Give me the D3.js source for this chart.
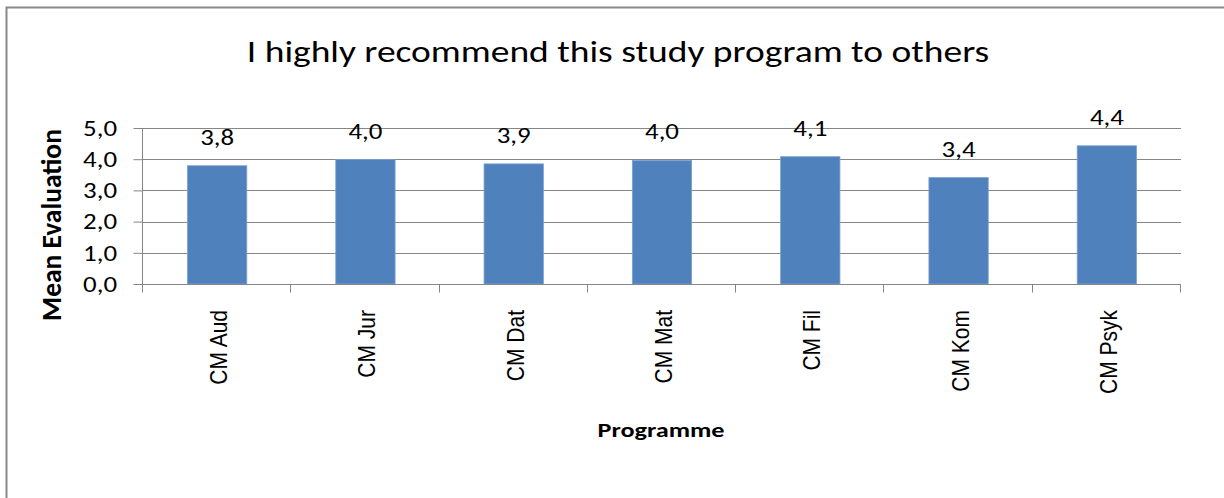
<!DOCTYPE html>
<html>
<head>
<meta charset="utf-8">
<script src="https://cdn.jsdelivr.net/npm/d3@7"></script>
<style>
  html, body { margin: 0; padding: 0; background: #ffffff; }
  svg { display: block; }
</style>
</head>
<body>
<svg id="chart" width="1224" height="498"></svg>
<script>
const titleText = "I highly recommend this study program to others";
const categories = ["CM Aud", "CM Jur", "CM Dat", "CM Mat", "CM Fil", "CM Kom", "CM Psyk"];
const values = [3.79, 3.99, 3.85, 3.96, 4.08, 3.41, 4.43];
const yTicks = [0, 1, 2, 3, 4, 5];
const yAxisTitle = "Mean Evaluation";
const xAxisTitle = "Programme";

const calibri = "Carlito, Calibri, Lato, 'Open Sans', sans-serif";
const arial = "'Liberation Sans', Arial, sans-serif";
const fmt = v => d3.format(".1f")(v).replace(".", ",");
const SX = 1.25; // horizontal stretch of the reference picture

const svg = d3.select("#chart");
const W = 1224, H = 498;
svg.append("rect").attr("width", W).attr("height", H).attr("fill", "#fff");

// outer chart frame (extends beyond the photographed area)
svg.append("rect")
  .attr("x", 6.5).attr("y", 7.5)
  .attr("width", W + 20).attr("height", H + 20)
  .attr("fill", "none").attr("stroke", "#898989").attr("stroke-width", 2);

const plot = { left: 143, right: 1181, top: 128, bottom: 284 };

const x = d3.scaleBand().domain(categories).range([plot.left, plot.right]).paddingInner(0).paddingOuter(0);
const y = d3.scaleLinear().domain([0, 5]).range([plot.bottom, plot.top]);

// gridlines
svg.append("g").selectAll("line").data(yTicks.filter(d => d > 0)).join("line")
  .attr("x1", plot.left).attr("x2", plot.right)
  .attr("y1", d => Math.round(y(d)) + 0.5).attr("y2", d => Math.round(y(d)) + 0.5)
  .attr("stroke", "#868686").attr("stroke-width", 1);

// y axis (ticks via d3 axis, labels drawn stretched)
const yAxis = d3.axisLeft(y).tickValues(yTicks).tickSize(9).tickFormat("");
const gy = svg.append("g").attr("transform", `translate(${plot.left - 0.5},0)`).call(yAxis);
gy.select(".domain").remove();
gy.append("line").attr("x1", 0).attr("x2", 0).attr("y1", plot.top).attr("y2", plot.bottom + 8)
  .attr("stroke", "#868686");
gy.selectAll(".tick line").attr("stroke", "#868686");
svg.append("g").selectAll("text").data(yTicks).join("text")
  .attr("transform", d => `translate(117,${y(d)}) scale(${SX},1)`)
  .attr("dy", "0.36em")
  .attr("text-anchor", "end")
  .attr("font-family", calibri).attr("font-size", 21.5).attr("fill", "#000")
  .text(d => fmt(d));

// bars
const barW = x.bandwidth() / 2.5;
svg.append("g").selectAll("rect").data(values).join("rect")
  .attr("x", (d, i) => x(categories[i]) + (x.bandwidth() - barW) / 2)
  .attr("y", d => y(d))
  .attr("width", barW)
  .attr("height", d => y(0) - y(d))
  .attr("fill", "#4F81BD")
  .attr("stroke", "#7EA0CF").attr("stroke-width", 0.8);

// x axis baseline + ticks
const xAxis = d3.axisBottom(x).tickSize(0).tickFormat("");
const gx = svg.append("g").attr("transform", `translate(0,${plot.bottom + 0.5})`).call(xAxis);
gx.select(".domain").attr("stroke", "#868686").attr("d", `M${plot.left},0H${plot.right}`);
gx.append("g").selectAll("line").data(d3.range(categories.length + 1)).join("line")
  .attr("x1", i => Math.round(plot.left + i * x.step()) - 0.5)
  .attr("x2", i => Math.round(plot.left + i * x.step()) - 0.5)
  .attr("y1", 0).attr("y2", 8).attr("stroke", "#868686");

// category labels (rotated)
svg.append("g").selectAll("text").data(categories).join("text")
  .attr("transform", d => `translate(${x(d) + x.bandwidth() / 2 + 10},310) scale(1.18,1) rotate(-90)`)
  .attr("text-anchor", "end")
  .attr("font-family", arial).attr("font-size", 21).attr("fill", "#000")
  .text(d => d);

// data labels
svg.append("g").selectAll("text").data(values).join("text")
  .attr("transform", (d, i) => `translate(${x(categories[i]) + x.bandwidth() / 2},${y(d) - 21}) scale(${SX},1)`)
  .attr("text-anchor", "middle")
  .attr("font-family", calibri).attr("font-size", 21.5).attr("fill", "#000")
  .text(d => fmt(d));

// title
svg.append("text").attr("transform", `translate(618,62) scale(${SX},1)`).attr("text-anchor", "middle")
  .attr("font-family", calibri).attr("font-size", 30).attr("fill", "#000")
  .text(titleText);

// axis titles
svg.append("text").attr("transform", `translate(61,225) rotate(-90)`).attr("text-anchor", "middle")
  .attr("font-family", calibri).attr("font-size", 27.5).attr("font-weight", "bold").attr("fill", "#000")
  .text(yAxisTitle);
svg.append("text").attr("transform", `translate(661,437) scale(${SX},1)`).attr("text-anchor", "middle")
  .attr("font-family", calibri).attr("font-size", 21).attr("font-weight", "bold").attr("fill", "#000")
  .text(xAxisTitle);
</script>
</body>
</html>
